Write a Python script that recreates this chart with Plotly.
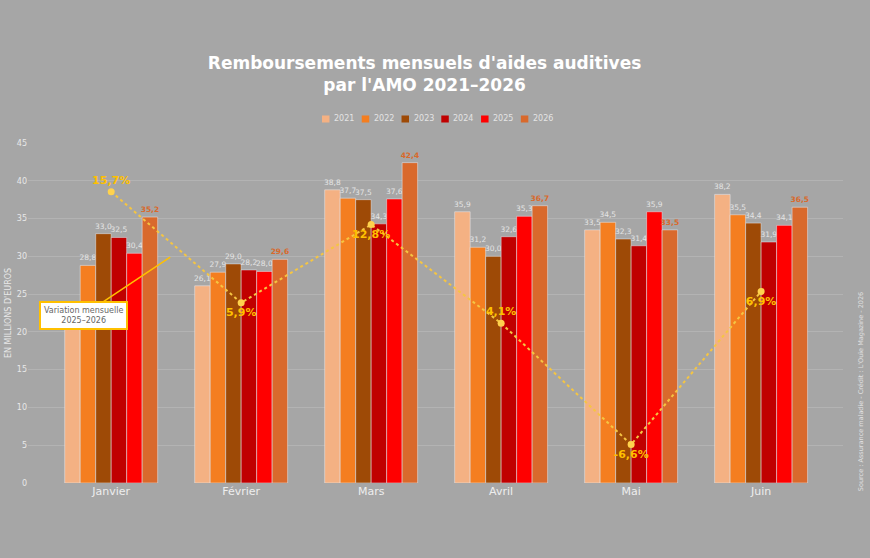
import plotly.graph_objects as go

# Données (millions d'euros)
mois = ["Janvier", "Février", "Mars", "Avril", "Mai", "Juin"]
annees = ["2021", "2022", "2023", "2024", "2025", "2026"]
val_2021 = [22.5, 26.1, 38.8, 35.9, 33.5, 38.2]
val_2022 = [28.8, 27.9, 37.7, 31.2, 34.5, 35.5]
val_2023 = [33.0, 29.0, 37.5, 30.0, 32.3, 34.4]
val_2024 = [32.5, 28.2, 34.3, 32.6, 31.4, 31.9]
val_2025 = [30.4, 28.0, 37.6, 35.3, 35.9, 34.1]
val_2026 = [35.2, 29.6, 42.4, 36.7, 33.5, 36.5]
variation = [15.7, 5.9, 12.8, 4.1, -6.6, 6.9]

series = [val_2021, val_2022, val_2023, val_2024, val_2025, val_2026]
couleurs = ["#F4B183", "#F47E20", "#9E4A06", "#C00000", "#FF0000", "#D9692C"]

fig = go.Figure()

for annee, vals, coul in zip(annees, series, couleurs):
    if annee == "2026":
        tpl = "<b>%{y:.1f}</b>"
        tfont = dict(size=7.5, color="#D9692C")
    else:
        tpl = "%{y:.1f}"
        tfont = dict(size=7.5, color="#E4E4E4")
    fig.add_trace(go.Bar(
        x=mois, y=vals, name=annee, marker_color=coul,
        texttemplate=tpl, textposition="outside", textfont=tfont,
        constraintext="none", cliponaxis=False,
    ))

# Variation 2025-2026 sur axe secondaire
positions = ["top center", "bottom center", "bottom center",
             "top center", "bottom center", "bottom center"]
fig.add_trace(go.Scatter(
    x=mois, y=variation, yaxis="y2", mode="lines+markers+text",
    line=dict(color="#F5C542", width=2, dash="dot"),
    marker=dict(size=7, color="#FFD24D"),
    texttemplate="<b>%{y:.1f}%</b>", textposition=positions,
    textfont=dict(size=11, color="#FFC000"),
    showlegend=False, cliponaxis=False,
))

# Légende compacte (carrés + libellés)
for i, (annee, coul) in enumerate(zip(annees, couleurs)):
    x0 = 0.3607 + i * 0.0488
    fig.add_shape(type="rect", xref="paper", yref="paper",
                  x0=x0, x1=x0 + 0.0092, y0=1.0603, y1=1.0809,
                  fillcolor=coul, line_width=0)
    fig.add_annotation(x=x0 + 0.0125, y=1.0706, xref="paper", yref="paper",
                       text=annee, showarrow=False,
                       xanchor="left", yanchor="middle",
                       font=dict(size=8, color="#E4E4E4"))

fig.add_annotation(
    x=0.454, y=29.9, xref="x", yref="y",
    text="Variation mensuelle<br>2025–2026",
    showarrow=True, arrowhead=0, arrowcolor="#FFC000", arrowwidth=1.5,
    ax=-87, ay=58,
    bgcolor="white", bordercolor="#FFC000", borderwidth=2, borderpad=3,
    font=dict(size=8, color="#666666"),
)

fig.add_annotation(
    x=1.022, y=0.27, xref="paper", yref="paper",
    text="Source : Assurance maladie - Crédit : L'Ouïe Magazine - 2026",
    textangle=-90, showarrow=False, xanchor="center", yanchor="middle",
    font=dict(size=6.5, color="#E0E0E0"),
)

fig.update_layout(
    width=870, height=558,
    paper_bgcolor="#A6A6A6", plot_bgcolor="#A6A6A6",
    font=dict(family="DejaVu Sans", color="#EEEEEE"),
    separators=", ",
    showlegend=False,
    title=dict(
        text="<b>Remboursements mensuels d'aides auditives<br>par l'AMO 2021–2026</b>",
        x=0.488, xanchor="center", y=0.877, yanchor="middle",
        font=dict(size=17, color="white"),
    ),
    barmode="group", bargap=0.285, bargroupgap=0,
    margin=dict(l=28, r=27, t=143, b=75),
    xaxis=dict(
        range=[-0.64, 5.63], showgrid=False, zeroline=False,
        tickfont=dict(size=11, color="#EEEEEE"),
    ),
    yaxis=dict(
        range=[0, 45], dtick=5, gridcolor="#B3B3B3", gridwidth=1,
        zeroline=False, tickfont=dict(size=8, color="#E8E8E8"),
        automargin=False,
        title=dict(text="EN MILLIONS D'EUROS", font=dict(size=8, color="#E8E8E8"),
                   standoff=4),
    ),
    yaxis2=dict(range=[-10, 20], overlaying="y", visible=False),
)

# pas de marge blanche autour du graphique, pas de barre d'outils
fig.write_html("out.html", config={"displayModeBar": False},
               post_script="document.body.style.margin='0';")
